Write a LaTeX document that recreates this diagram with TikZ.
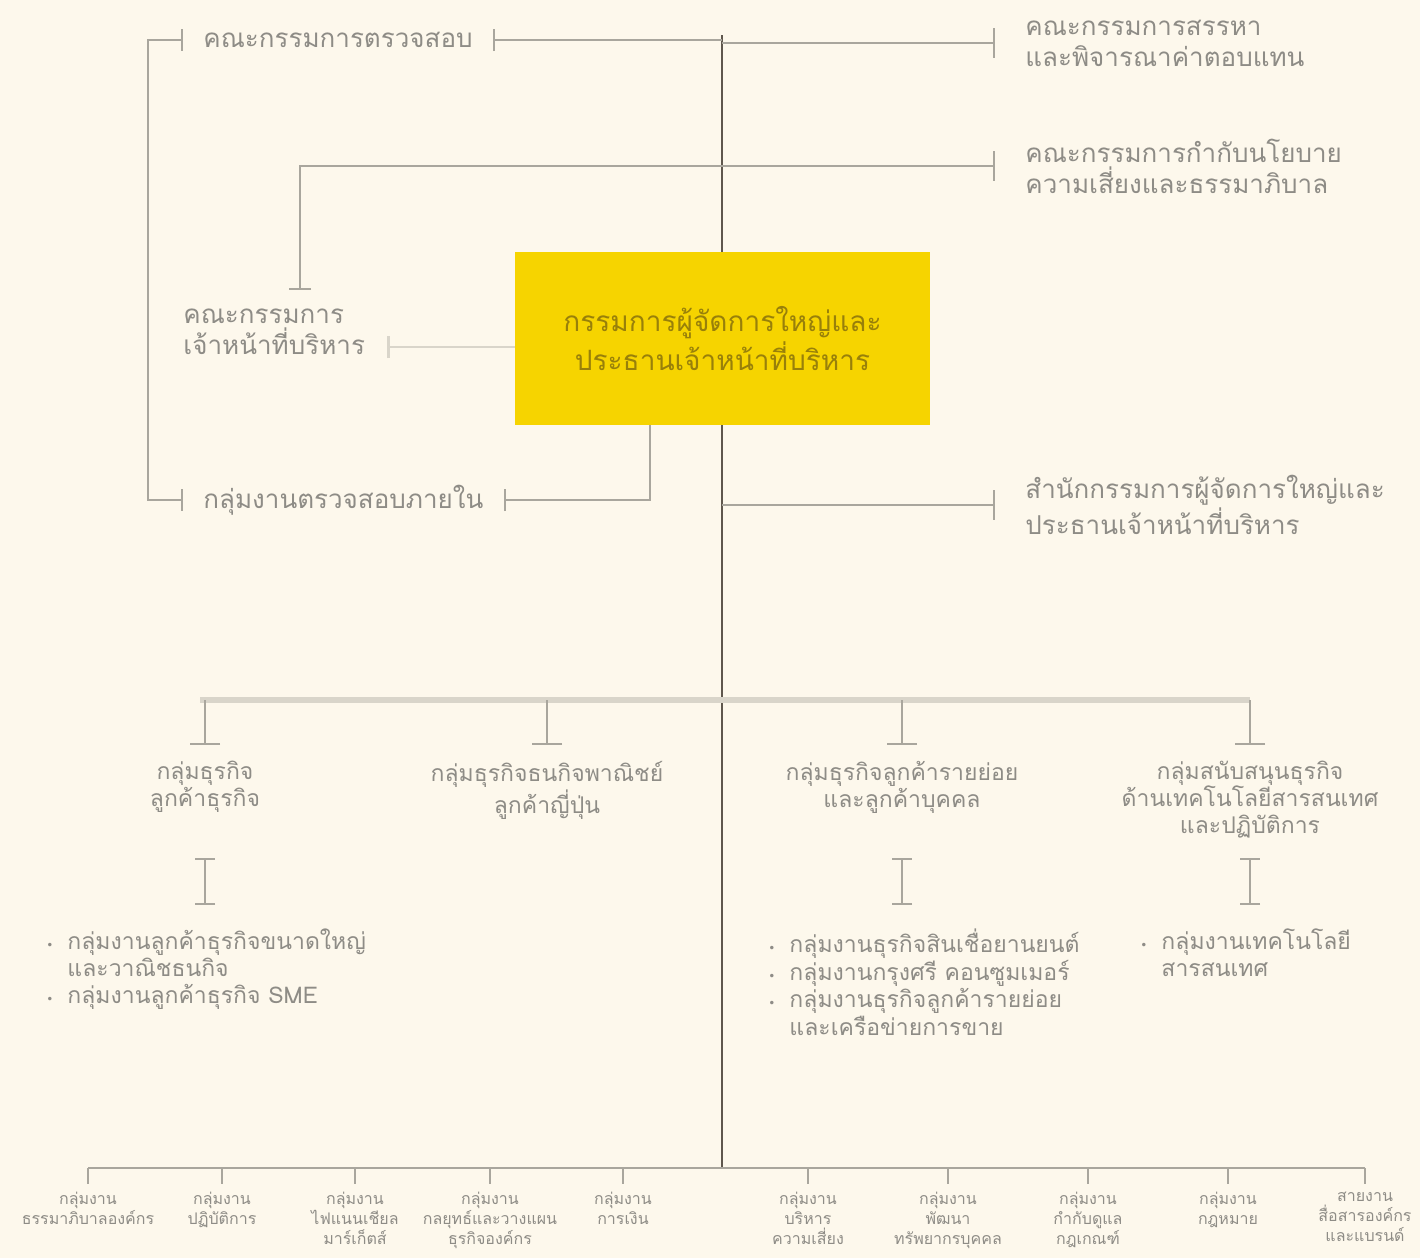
\documentclass[tikz,border=0pt]{standalone}
\usepackage{fontspec}
\newfontfamily\thaifont[Script=Thai]{Loma}
\newfontfamily\symfont{DejaVu Sans}
\usetikzlibrary{calc,arrows.meta}

\definecolor{paper}{HTML}{FDF8EC}
\definecolor{inkgray}{HTML}{8E8C86}
\definecolor{rulegray}{HTML}{A9A69D}
\definecolor{faintgray}{HTML}{D9D5CA}
\definecolor{spinegray}{HTML}{5F574D}
\definecolor{ceofill}{HTML}{F6D400}
\definecolor{ceoink}{HTML}{98800A}

\newcommand{\bul}{{\symfont\fontsize{6}{6}\selectfont •}}

\tikzset{
  board/.style={text=inkgray, inner sep=0pt, align=left,
    font=\thaifont\fontsize{13}{15.5}\selectfont},
  group/.style={text=inkgray, inner sep=0pt, align=center,
    font=\thaifont\fontsize{11.5}{13.5}\selectfont},
  unit/.style={text=inkgray, inner sep=0pt, align=center,
    font=\thaifont\fontsize{8}{10}\selectfont},
  ceo/.style={fill=ceofill, text=ceoink, align=center,
    minimum width=207.5pt, minimum height=86.5pt,
    font=\thaifont\fontsize{14}{16}\selectfont},
  link/.style={draw=rulegray, line width=1.1pt},
  faint/.style={draw=faintgray, line width=1.1pt},
  spine/.style={draw=spinegray, line width=1.3pt},
  bus/.style={draw=faintgray, line width=3pt},
  tbar/.tip={Bar[width=15pt,line width=1.1pt]},
  sbar/.tip={Bar[width=11pt,line width=1.1pt]},
  ibar/.tip={Bar[width=10pt,line width=1.1pt]}
}

\begin{document}
\begin{tikzpicture}[x=0.5pt,y=-0.5pt]

    \fill[paper] (0,0) rectangle (1420,1258);
    \useasboundingbox (0,0) rectangle (1420,1258);

    \coordinate (spine top)    at (722,35);
    \coordinate (spine bottom) at (722,1168);
    \coordinate (bus left)     at (200,700);
    \coordinate (bus right)    at (1250,700);
    \coordinate (trunk left)   at (88,1168);
    \coordinate (trunk right)  at (1365,1168);
    \coordinate (exec drop)    at (300,290);

    \draw[spine] (spine top) -- (spine bottom);

    \node[ceo] (CEO) at (722.5,338.5) {กรรมการผู้จัดการใหญ่และ\\ประธานเจ้าหน้าที่บริหาร};

    % committees
    \node[board, anchor=west, inner xsep=10pt] (audit) at (183,40) {คณะกรรมการตรวจสอบ};
    \node[board, anchor=west, inner xsep=15pt] (nomination) at (995,43) {คณะกรรมการสรรหา\\และพิจารณาค่าตอบแทน};
    \node[board, anchor=west, inner xsep=15pt] (risk) at (995,166) {คณะกรรมการกำกับนโยบาย\\ความเสี่ยงและธรรมาภิบาล};
    \node[board, anchor=west, inner xsep=0pt] (exec) at (183,332) {คณะกรรมการ\\เจ้าหน้าที่บริหาร\hspace*{11pt}};
    \node[board, anchor=west, inner xsep=10pt] (internal audit) at (183,500) {กลุ่มงานตรวจสอบภายใน};
    \node[board, anchor=west, inner xsep=15pt] (office) at (995,505) {สำนักกรรมการผู้จัดการใหญ่และ\\ประธานเจ้าหน้าที่บริหาร};

    \draw[link,-sbar] (spine top |- audit.east) -- (audit.east);
    \draw[link,sbar-sbar] (audit.west) -- ++(-35,0) |- (internal audit.west);
    \draw[link,sbar-] (internal audit.east) -| ($(CEO.south west)!0.325!(CEO.south east)$);
    \draw[link,-tbar] (spine top |- nomination.west) -- (nomination.west);
    \draw[link,sbar-tbar] (exec drop) |- (risk.west);
    \draw[faint,sbar-] ($(exec.east)+(0,15)$) coordinate (exec tick) -- (exec tick -| CEO.west);
    \draw[link,-tbar] (spine top |- office.west) -- (office.west);

    % business groups
    \draw[bus] (bus left) -- (bus right);

    \foreach \g/\x/\txt in {
        grp1/205/{กลุ่มธุรกิจ\\ลูกค้าธุรกิจ},
        grp2/547/{กลุ่มธุรกิจธนกิจพาณิชย์\\ลูกค้าญี่ปุ่น},
        grp3/902/{กลุ่มธุรกิจลูกค้ารายย่อย\\และลูกค้าบุคคล},
        grp4/1250/{กลุ่มสนับสนุนธุรกิจ\\ด้านเทคโนโลยีสารสนเทศ\\และปฏิบัติการ}}
    \node[group, anchor=north, inner ysep=8pt] (\g) at (\x,745) {\txt};

    \foreach \g in {grp1,grp2,grp3,grp4}
    \draw[link,-tbar] (bus left -| \g.north) -- (\g.north);

    \foreach \g in {grp1,grp3,grp4}
    \draw[link,ibar-ibar] (\g.south |- 0,858) -- (\g.south |- 0,905);

    \node[group, anchor=north west, align=left] (list1) at (46,928)
    {\begin{tabular}{@{}l@{\hspace{7pt}}l@{}}
      \bul & กลุ่มงานลูกค้าธุรกิจขนาดใหญ่\\
           & และวาณิชธนกิจ\\
      \bul & กลุ่มงานลูกค้าธุรกิจ SME
    \end{tabular}};
    \node[group, anchor=north west, align=left] (list3) at (768,928)
    {\begin{tabular}{@{}l@{\hspace{7pt}}l@{}}
      \bul & กลุ่มงานธุรกิจสินเชื่อยานยนต์\\
      \bul & กลุ่มงานกรุงศรี คอนซูมเมอร์\\
      \bul & กลุ่มงานธุรกิจลูกค้ารายย่อย\\
           & และเครือข่ายการขาย
    \end{tabular}};
    \node[group, anchor=north west, align=left] (list4) at (1140,928)
    {\begin{tabular}{@{}l@{\hspace{7pt}}l@{}}
      \bul & กลุ่มงานเทคโนโลยี\\
           & สารสนเทศ
    \end{tabular}};

    % support units
    \draw[link] (trunk left) -- (trunk right);

    \foreach \u/\x/\txt in {
        u1/88/{กลุ่มงาน\\ธรรมาภิบาลองค์กร},
        u2/222/{กลุ่มงาน\\ปฏิบัติการ},
        u3/355/{กลุ่มงาน\\ไฟแนนเชียล\\มาร์เก็ตส์},
        u4/490/{กลุ่มงาน\\กลยุทธ์และวางแผน\\ธุรกิจองค์กร},
        u5/623/{กลุ่มงาน\\การเงิน},
        u6/808/{กลุ่มงาน\\บริหาร\\ความเสี่ยง},
        u7/948/{กลุ่มงาน\\พัฒนา\\ทรัพยากรบุคคล},
        u8/1088/{กลุ่มงาน\\กำกับดูแล\\กฎเกณฑ์},
        u9/1228/{กลุ่มงาน\\กฎหมาย},
        u10/1365/{สายงาน\\สื่อสารองค์กร\\และแบรนด์}}
    \node[unit, anchor=north, inner ysep=4pt] (\u) at (\x,1184) {\txt};

    \foreach \u in {u1,u2,u3,u4,u5,u6,u7,u8,u9,u10}
    \draw[link] (trunk left -| \u.north) -- (\u.north);

\end{tikzpicture}
\end{document}
